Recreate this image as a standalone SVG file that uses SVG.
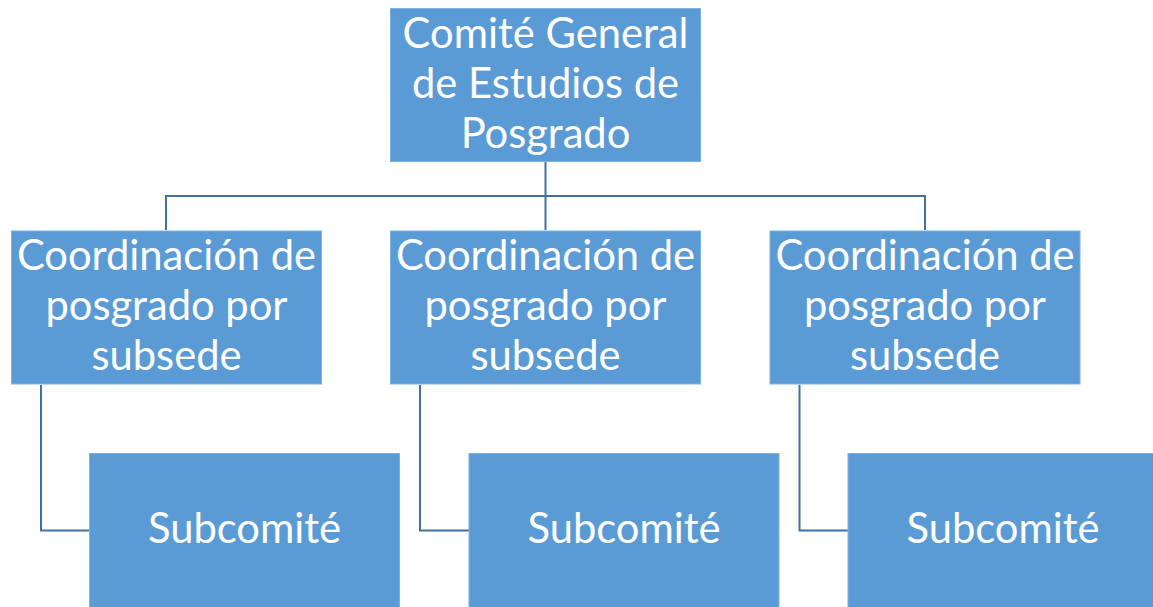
<svg xmlns="http://www.w3.org/2000/svg" width="1153" height="607" viewBox="0 0 1153 607">
<style>
.box{fill:#5B9BD5;stroke:#7EB1DE;stroke-width:1}
.t{font-family:Lato,"Open Sans","Liberation Sans",sans-serif;font-size:41.7px;fill:#FFFFFF;text-anchor:middle}
.c{fill:none;stroke:#41719C;stroke-width:2}
</style>
<rect width="1153" height="607" fill="#FFFFFF"/>
<g id="connectors">
<path class="c" d="M545.5 162V230M166 230V196H925V230"/>
<path class="c" d="M41 385V530.5H89"/>
<path class="c" d="M420 385V530.5H469"/>
<path class="c" d="M799.5 385V530.5H848"/>
</g>
<g id="top">
<rect class="box" x="390.5" y="8.5" width="310" height="153"/>
<text class="t" x="545.5" y="48">Comité General</text>
<text class="t" x="545.5" y="98">de Estudios de</text>
<text class="t" x="545.5" y="148">Posgrado</text>
</g>
<g id="coord1">
<rect class="box" x="11.5" y="231" width="310" height="153"/>
<text class="t" x="166.5" y="270">Coordinación de</text>
<text class="t" x="166.5" y="320">posgrado por</text>
<text class="t" x="166.5" y="370">subsede</text>
</g>
<g id="coord2">
<rect class="box" x="390.5" y="231" width="310" height="153"/>
<text class="t" x="545.5" y="270">Coordinación de</text>
<text class="t" x="545.5" y="320">posgrado por</text>
<text class="t" x="545.5" y="370">subsede</text>
</g>
<g id="coord3">
<rect class="box" x="770" y="231" width="310" height="153"/>
<text class="t" x="925" y="270">Coordinación de</text>
<text class="t" x="925" y="320">posgrado por</text>
<text class="t" x="925" y="370">subsede</text>
</g>
<g id="sub1">
<rect class="box" x="89.5" y="453.5" width="310" height="160"/>
<text class="t" x="244.5" y="543">Subcomité</text>
</g>
<g id="sub2">
<rect class="box" x="469" y="453.5" width="310" height="160"/>
<text class="t" x="624" y="543">Subcomité</text>
</g>
<g id="sub3">
<rect class="box" x="848" y="453.5" width="310" height="160"/>
<text class="t" x="1003" y="543">Subcomité</text>
</g>
</svg>
